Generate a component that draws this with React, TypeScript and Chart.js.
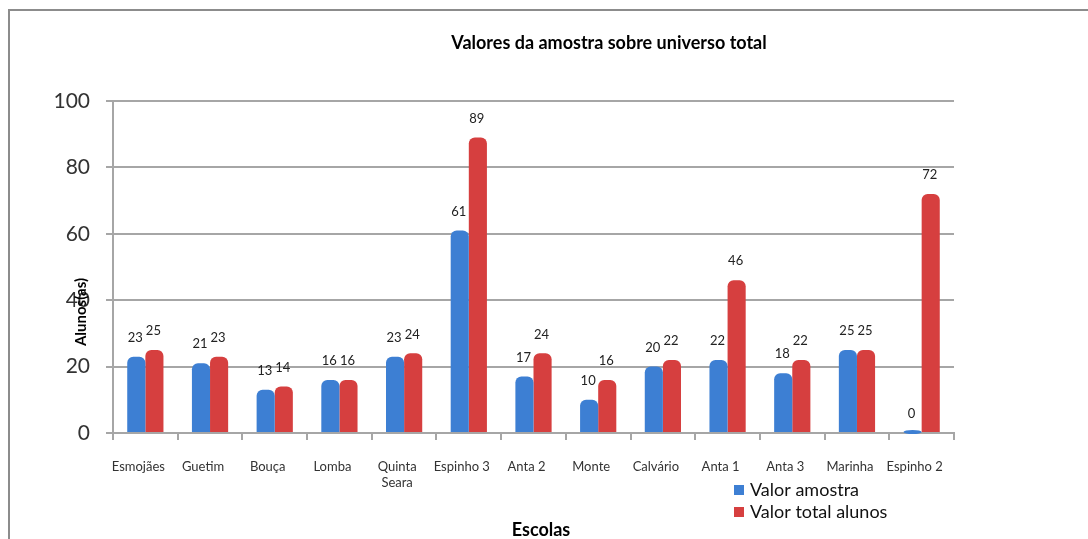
import React, { useEffect, useRef } from "react";
import { Chart, registerables } from "chart.js";

Chart.register(...registerables);

const categories: (string | string[])[] = [
  "Esmojães", "Guetim", "Bouça", "Lomba", ["Quinta", "Seara"], "Espinho 3",
  "Anta 2", "Monte", "Calvário", "Anta 1", "Anta 3", "Marinha", "Espinho 2",
];
const valorAmostra = [23, 21, 13, 16, 23, 61, 17, 10, 20, 22, 18, 25, 0];
const valorTotal = [25, 23, 14, 16, 24, 89, 24, 16, 22, 46, 22, 25, 72];
const yTicks = [0, 20, 40, 60, 80, 100];

const chartTitle = "Valores da amostra sobre universo total";
const yTitle = "Alunos(as)";
const xTitle = "Escolas";
const seriesNames = ["Valor amostra", "Valor total alunos"];
const seriesColors = ["#3d7fd3", "#d63f3f"];

const FONT = "Lato, 'Open Sans', sans-serif";

const decorPlugin = {
  id: "decor",
  beforeDraw(chart: any) {
    const ctx = chart.ctx;
    ctx.save();
    ctx.fillStyle = "#ffffff";
    ctx.fillRect(0, 0, chart.width, chart.height);
    ctx.strokeStyle = "#8c8c8c";
    ctx.lineWidth = 2;
    ctx.beginPath();
    ctx.moveTo(9, chart.height);
    ctx.lineTo(9, 10);
    ctx.lineTo(chart.width, 10);
    ctx.stroke();
    ctx.restore();
  },
  afterDatasetsDraw(chart: any) {
    const ctx = chart.ctx;
    ctx.save();
    ctx.font = `13px ${FONT}`;
    ctx.fillStyle = "#222";
    ctx.textAlign = "center";
    ctx.textBaseline = "middle";
    chart.data.datasets.forEach((ds: any, di: number) => {
      const meta = chart.getDatasetMeta(di);
      meta.data.forEach((el: any, i: number) => {
        if (ds.data[i] === 0) {
          // flat base of an empty bar
          ctx.save();
          ctx.fillStyle = ds.backgroundColor;
          ctx.beginPath();
          ctx.ellipse(el.x, el.y - 1, el.width / 2, 2, 0, 0, Math.PI * 2);
          ctx.fill();
          ctx.restore();
        }
        ctx.fillText(String(ds.data[i]), el.x - 1, el.y - 19);
      });
    });
    ctx.restore();
  },
  afterDraw(chart: any) {
    const ctx = chart.ctx;
    const area = chart.chartArea;
    ctx.save();
    // title
    ctx.fillStyle = "#000";
    ctx.font = `bold 18px ${FONT}`;
    ctx.textAlign = "center";
    ctx.textBaseline = "middle";
    ctx.fillText(chartTitle, area.left + 496, 43);
    // x title
    ctx.font = `bold 18px ${FONT}`;
    ctx.fillText(xTitle, area.left + 428, area.bottom + 97);
    // y title
    ctx.save();
    ctx.translate(area.left - 32, area.top + 211);
    ctx.rotate(-Math.PI / 2);
    ctx.font = `bold 15px ${FONT}`;
    ctx.fillText(yTitle, 0, 0);
    ctx.restore();
    // legend
    ctx.textAlign = "left";
    ctx.font = `18px ${FONT}`;
    chart.data.datasets.forEach((ds: any, di: number) => {
      const y = area.bottom + 57 + di * 22;
      ctx.fillStyle = ds.backgroundColor;
      ctx.fillRect(area.left + 621, y - 5, 10, 10);
      ctx.fillStyle = "#111";
      ctx.fillText(ds.label, area.left + 637, y);
    });
    ctx.restore();
  },
};

export default function App() {
  const ref = useRef<HTMLCanvasElement | null>(null);
  useEffect(() => {
    if (!ref.current) return;
    const chart = new Chart(ref.current, {
      type: "bar",
      data: {
        labels: categories,
        datasets: [
          {
            label: seriesNames[0],
            data: valorAmostra,
            backgroundColor: seriesColors[0],
            borderRadius: { topLeft: 6, topRight: 6 },
            borderSkipped: "bottom",
            categoryPercentage: 0.56,
            barPercentage: 1,
          },
          {
            label: seriesNames[1],
            data: valorTotal,
            backgroundColor: seriesColors[1],
            borderRadius: { topLeft: 6, topRight: 6 },
            borderSkipped: "bottom",
            categoryPercentage: 0.56,
            barPercentage: 1,
          },
        ],
      },
      options: {
        responsive: false,
        animation: false,
        layout: { padding: { top: 101, right: 134, left: 0, bottom: 0 } },
        plugins: {
          legend: { display: false },
          title: { display: false },
          tooltip: { enabled: false },
        },
        scales: {
          x: {
            grid: {
              drawOnChartArea: false,
              drawTicks: true,
              tickLength: 7,
              color: "#a6a6a6",
              lineWidth: 2,
            },
            border: { display: true, color: "#a6a6a6", width: 2 },
            ticks: {
              autoSkip: false,
              maxRotation: 0,
              padding: 19,
              labelOffset: -7,
              color: "#333",
              font: { family: FONT, size: 13 },
            },
            afterFit(scale: any) {
              scale.height = 106;
            },
          },
          y: {
            min: 0,
            max: 100,
            afterBuildTicks(scale: any) {
              scale.ticks = yTicks.map((v) => ({ value: v }));
            },
            grid: {
              color: "#a6a6a6",
              lineWidth: 2,
              tickLength: 7,
              tickColor: "#a6a6a6",
            },
            border: { display: true, color: "#a6a6a6", width: 2 },
            ticks: {
              padding: 16,
              color: "#333",
              font: { family: FONT, size: 21 },
            },
            afterFit(scale: any) {
              scale.width = 113;
            },
          },
        },
      },
      plugins: [decorPlugin],
    });
    return () => chart.destroy();
  }, []);
  return (
    <div style={{ position: "fixed", left: 0, top: 0, width: 1088, height: 539, background: "#fff" }}>
      <canvas ref={ref} width={1088} height={539} style={{ display: "block" }} />
    </div>
  );
}
